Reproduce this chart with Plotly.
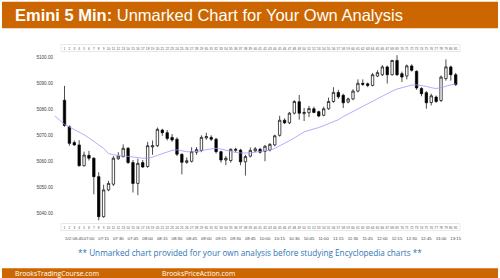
import plotly.graph_objects as go

W, H = 500, 278

bars = list(range(1, 82))
opens = [5083.5, 5073.3, 5067.2, 5066.3, 5058.3, 5062.3, 5061.2, 5054.1, 5038.7, 5049,
         5051.2, 5061, 5061.8, 5065, 5059.5, 5051.5, 5059.5, 5058, 5065.5, 5066,
         5072, 5071, 5069.2, 5068.5, 5062.7, 5059.6, 5060, 5063.5, 5064.2, 5069,
         5069.2, 5068.5, 5063.7, 5060.5, 5060.3, 5064.2, 5064.3, 5059.8, 5062, 5064,
         5064.6, 5063.8, 5064.3, 5066.3, 5070, 5075.8, 5074.8, 5078.5, 5082.9, 5078.3,
         5078.7, 5080.2, 5079.1, 5077.7, 5080.2, 5083, 5086.5, 5085.4, 5082.8, 5084,
         5087, 5090, 5089.8, 5089.2, 5092.8, 5093.3, 5096.3, 5093.3, 5098.8, 5093.7,
         5092.8, 5096.7, 5094.6, 5088, 5086.4, 5082.6, 5084.7, 5083.4, 5091.8, 5096.3,
         5093.3]
highs = [5089, 5073.8, 5068, 5068.1, 5063.7, 5064, 5061.5, 5055.8, 5051, 5052.5,
         5062, 5063.5, 5066.5, 5065.5, 5060.5, 5061, 5060.5, 5067.5, 5068, 5073,
         5072.5, 5072, 5070.5, 5069.2, 5063, 5061.5, 5065.4, 5065.5, 5070, 5071,
         5070, 5069, 5064, 5062, 5065, 5065.2, 5064.8, 5062.5, 5065.3, 5065.5,
         5065.2, 5066.3, 5067, 5070.2, 5077.5, 5076.5, 5079, 5083.5, 5085.5, 5080.5,
         5081.3, 5081, 5079.5, 5081, 5084.5, 5088.5, 5087.5, 5086, 5084.5, 5087.7,
         5091.5, 5091.5, 5090.3, 5094, 5095, 5097, 5096.8, 5099, 5100.8, 5094.5,
         5097.2, 5097.3, 5095, 5088.5, 5087, 5086, 5085.3, 5093, 5099.2, 5096.8,
         5094]
lows = [5073.3, 5066, 5066, 5058, 5058, 5060.3, 5047.3, 5037.3, 5038.3, 5048.5,
        5050.5, 5060.5, 5061.5, 5059, 5048, 5047, 5057.5, 5057.5, 5062.5, 5065.5,
        5069.8, 5068, 5067.5, 5062, 5055, 5059, 5059.5, 5062.5, 5063.5, 5068.3,
        5067.8, 5063, 5059.5, 5058.5, 5059.5, 5063.5, 5058.5, 5054.5, 5061.5, 5063.5,
        5063, 5060, 5063.8, 5065.8, 5069.5, 5074.3, 5074.3, 5078, 5076, 5075.5,
        5077, 5078.5, 5077, 5077.3, 5079.8, 5082.5, 5084, 5080.5, 5082.3, 5083.5,
        5086.5, 5089, 5088.5, 5088.8, 5092.4, 5092.8, 5089.9, 5093, 5092.8, 5090.5,
        5091.5, 5094.5, 5087.5, 5085, 5080.2, 5081.5, 5082.5, 5082.8, 5091, 5091,
        5089]
closes = [5073.8, 5066.9, 5066.3, 5058.3, 5062.4, 5061.2, 5054.1, 5038.7, 5049, 5051.5,
          5061.2, 5062, 5065, 5059.5, 5051.5, 5059.2, 5057.8, 5066, 5066, 5072.3,
          5071, 5068.8, 5068.2, 5062.7, 5059.6, 5060.2, 5063.7, 5064.5, 5069.2, 5069.5,
          5068.5, 5063.7, 5060.5, 5061.2, 5064.6, 5064.6, 5059.8, 5061.8, 5064.2, 5064.8,
          5063.5, 5065.8, 5066.5, 5069.8, 5075.8, 5074.8, 5078.5, 5083, 5078.5, 5078.8,
          5080.3, 5078.8, 5077.4, 5080.2, 5083, 5086.5, 5084.8, 5082.5, 5084, 5087,
          5090, 5089.6, 5089.2, 5093.3, 5094.1, 5096.3, 5093.3, 5098.8, 5093.3, 5092.4,
          5096.7, 5095, 5088.2, 5086, 5082.5, 5085.2, 5083, 5092.4, 5096.3, 5093.3,
          5089.5]

ema_bars = list(range(-1, 82))
ema_vals = [5077.5, 5076, 5074.2, 5073.2, 5072.3, 5071.2, 5070.2, 5069, 5067.8, 5066.3,
            5065, 5063, 5062.5, 5062.2, 5062, 5061.9, 5061.6, 5061.3, 5061.2, 5061.2,
            5061.6, 5062.3, 5063, 5063.8, 5064.2, 5064.4, 5064, 5063.7, 5063.6, 5063.7,
            5064, 5064.5, 5064.8, 5065, 5064.7, 5064.2, 5063.8, 5063.4, 5063.2, 5063.1,
            5063.2, 5063.5, 5063.8, 5064, 5064.3, 5065, 5065.9, 5066.9, 5067.9, 5069,
            5070.2, 5071.3, 5071.9, 5072.4, 5073, 5073.7, 5074.4, 5075.2, 5076, 5077.2,
            5078.2, 5079.2, 5080.3, 5081.2, 5082.1, 5083, 5084, 5085, 5086, 5087,
            5087.8, 5088.4, 5088.9, 5089.3, 5089.4, 5089.2, 5088.8, 5088.3, 5088, 5088.3,
            5089, 5089.4, 5089.8]

price_ticks = [5040, 5050, 5060, 5070, 5080, 5090, 5100]
price_labels = ["5040.00", "5050.00", "5060.00", "5070.00", "5080.00", "5090.00", "5100.00"]

time_tick_bars = list(range(3, 82, 3))
time_labels = ["5/2 06:45", "07:00", "07:15", "07:30", "07:45", "08:00", "08:15", "08:30",
               "08:45", "09:00", "09:15", "09:30", "09:45", "10:00", "10:15", "10:30",
               "10:45", "11:00", "11:15", "11:30", "11:45", "12:00", "12:15", "12:30",
               "12:45", "13:00", "13:15"]

title_bold = "Emini 5 Min:"
title_rest = " Unmarked Chart for Your Own Analysis"
subtitle = "** Unmarked chart provided for your own analysis before studying Encyclopedia charts **"
footer_left = "BrooksTradingCourse.com"
footer_right = "BrooksPriceAction.com"

ORANGE = "#CC6600"

def px(x):
    return x / W

def py(y):
    return 1 - y / H

# axis ranges so that bar 1 is at x=64.5px, spacing 4.89px; 5100 at y=57.3px, 2.6px/pt
xr = [1 - 64.5 / 4.89, 1 + (W - 64.5) / 4.89]
yr = [5100 - (H - 57.3) / 2.6, 5100 + 57.3 / 2.6]

fig = go.Figure()
fig.add_trace(go.Scatter(x=ema_bars, y=ema_vals, mode="lines",
                         line=dict(color="#9a9aff", width=0.8), hoverinfo="skip"))
fig.add_trace(go.Candlestick(
    x=bars, open=opens, high=highs, low=lows, close=closes,
    increasing=dict(line=dict(color="black", width=0.7), fillcolor="white"),
    decreasing=dict(line=dict(color="black", width=0.7), fillcolor="black"),
    whiskerwidth=0, hoverinfo="skip"))
for ax in ("x2", "x3"):
    fig.add_trace(go.Scatter(x=bars, y=closes, xaxis=ax, mode="markers",
                             marker=dict(opacity=0), hoverinfo="skip"))

num_font = dict(size=3.2, color="#555", family="Liberation Sans, Arial")
common_x = dict(range=xr, domain=[0, 1], showgrid=False, zeroline=False, showline=False,
                ticks="", tickangle=0, fixedrange=True)
fig.update_layout(
    width=W, height=H, margin=dict(l=0, r=0, t=0, b=0),
    paper_bgcolor="white", plot_bgcolor="white", showlegend=False,
    xaxis=dict(**common_x, anchor="free", position=py(235), tickmode="array",
               tickvals=time_tick_bars, ticktext=time_labels,
               tickfont=dict(size=4.3, color="#444", family="Liberation Sans, Arial"),
               rangeslider=dict(visible=False)),
    xaxis2=dict(**common_x, overlaying="x", anchor="free", position=py(46),
                tickmode="array", tickvals=bars, ticktext=[str(b) for b in bars],
                tickfont=num_font),
    xaxis3=dict(**common_x, overlaying="x", anchor="free", position=py(225),
                tickmode="array", tickvals=bars, ticktext=[str(b) for b in bars],
                tickfont=num_font),
    yaxis=dict(range=yr, domain=[0, 1], anchor="free", position=px(53),
               tickmode="array", tickvals=price_ticks, ticktext=price_labels,
               tickfont=dict(size=4.6, color="#444", family="Liberation Sans, Arial"),
               showgrid=False, zeroline=False, showline=False, ticks="", fixedrange=True),
)

shapes = [
    dict(type="rect", xref="paper", yref="paper", x0=px(2), x1=px(498), y0=py(28.3), y1=py(1.7),
         fillcolor=ORANGE, line=dict(width=0), layer="above"),
    dict(type="rect", xref="paper", yref="paper", x0=px(2), x1=px(498), y0=py(278), y1=py(268.3),
         fillcolor=ORANGE, line=dict(width=0), layer="above"),
    dict(type="rect", xref="paper", yref="paper", x0=px(61), x1=px(460), y0=py(51.5), y1=py(44.5),
         fillcolor="rgba(0,0,0,0)", line=dict(width=0.5, color="#d0d0d0"), layer="below"),
    dict(type="rect", xref="paper", yref="paper", x0=px(61), x1=px(460), y0=py(230.5), y1=py(223.5),
         fillcolor="rgba(0,0,0,0)", line=dict(width=0.5, color="#d0d0d0"), layer="below"),
]
fig.update_layout(shapes=shapes)

annotations = [
    dict(text="<b>" + title_bold + "</b>" + title_rest, xref="paper", yref="paper",
         x=px(13), y=py(15), xanchor="left", yanchor="middle", showarrow=False,
         font=dict(size=16.5, color="white", family="Liberation Sans, Arial")),
    dict(text=subtitle, xref="paper", yref="paper", x=px(250), y=py(252), xanchor="center",
         yanchor="middle", showarrow=False,
         font=dict(size=8.2, color="#2E75B6", family="Open Sans")),
    dict(text=footer_left, xref="paper", yref="paper", x=px(13), y=py(273.3), xanchor="left",
         yanchor="middle", showarrow=False,
         font=dict(size=6.8, color="white", family="Open Sans")),
    dict(text=footer_right, xref="paper", yref="paper", x=px(160), y=py(273.3), xanchor="left",
         yanchor="middle", showarrow=False,
         font=dict(size=6.8, color="white", family="Open Sans")),
]
fig.update_layout(annotations=annotations)

fig.write_html("out.html")
